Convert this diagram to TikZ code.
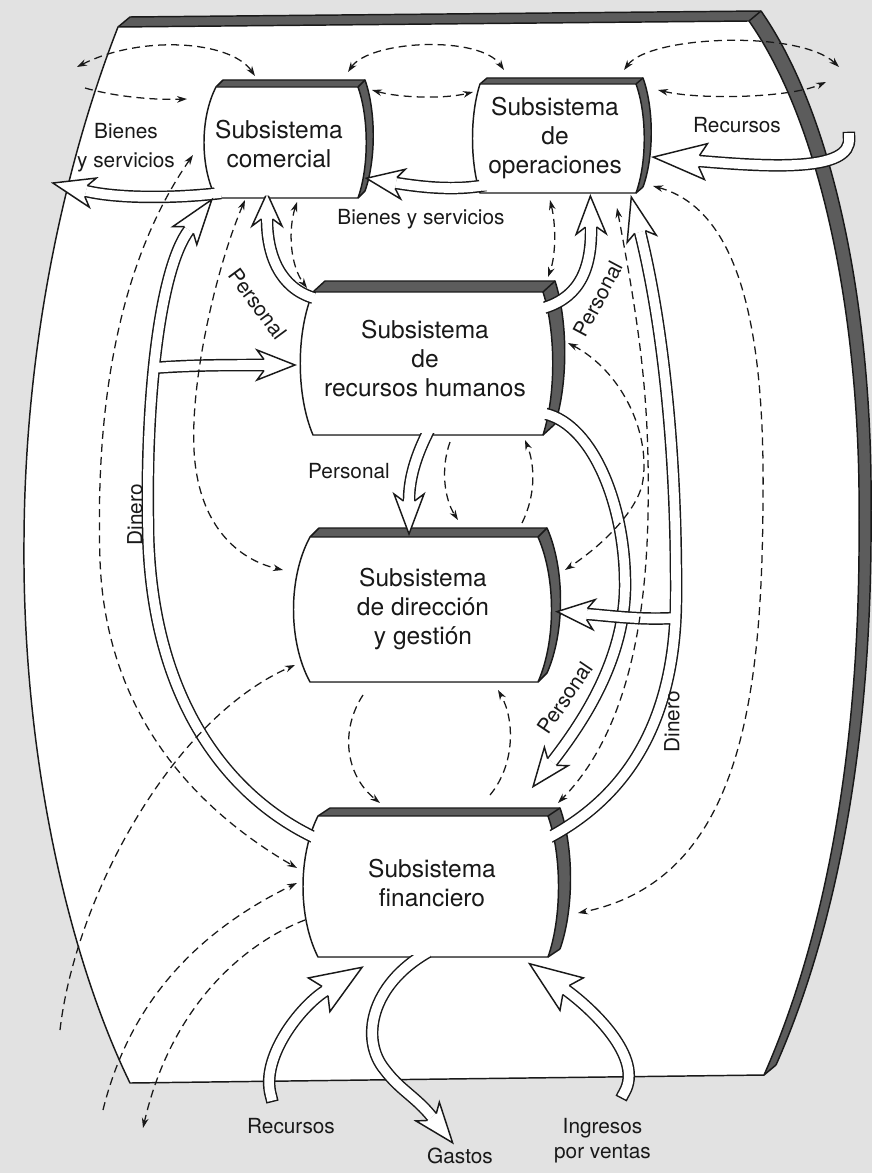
\documentclass[tikz,border=0pt]{standalone}
\usepackage{fontspec}
\setmainfont{TeX Gyre Heros}
\usetikzlibrary{arrows.meta}
\definecolor{paper}{RGB}{226,226,226}
\definecolor{bandc}{RGB}{92,92,92}
\definecolor{ink}{RGB}{25,25,25}

% outline of the curved board
\newcommand\boardpath{(118,27) -- (749,21) .. controls (825,130) and (861,330) .. (859,520) .. controls (861,780) and (815,960) .. (764,1075) -- (130,1083) .. controls (70,960) and (22,760) .. (24,540) .. controls (25,330) and (70,150) .. (118,27) -- cycle}

% front face of a subsystem block: left x, right x, top y, bottom y, left bulge, right bulge
\newcommand\facepath[6]{(#1,#3) -- (#2,#3) .. controls ({#2+#6},{#3+0.28*(#4-#3)}) and ({#2+#6},{#4-0.28*(#4-#3)}) .. (#2,#4) -- (#1,#4) .. controls ({#1-#5},{#4-0.28*(#4-#3)}) and ({#1-#5},{#3+0.28*(#4-#3)}) .. (#1,#3) -- cycle}

% block with its dark extruded rim (offset #7,#8)
\newcommand\subsysbox[8]{%
  \foreach \t in {0,...,8}{\fill[bandc,shift={({#7*\t/8},{-#8*\t/8})}] \facepath{#1}{#2}{#3}{#4}{#5}{#6};}
  \draw[bline,shift={(#7,-#8)}] (#1,#3) -- (#2,#3) .. controls ({#2+#6},{#3+0.28*(#4-#3)}) and ({#2+#6},{#4-0.28*(#4-#3)}) .. (#2,#4);
  \draw[bline] (#1,#3) -- ++(#7,-#8) (#2,#3) -- ++(#7,-#8) (#2,#4) -- ++(#7,-#8);
  \filldraw[fill=white,bline] \facepath{#1}{#2}{#3}{#4}{#5}{#6};}

% white inner fill laid again over a face so that arrow shafts merge into it
\newcommand\facerefill[6]{%
  \pgfmathsetmacro\rfx{1-4.5/(#2-#1+0.75*(#5+#6))}%
  \pgfmathsetmacro\rfy{1-4.5/(#4-#3)}%
  \pgfmathsetmacro\rcx{(#1-0.75*#5+#2+0.75*#6)/2}%
  \pgfmathsetmacro\rcy{(#3+#4)/2}%
  \fill[white,shift={(\rcx,\rcy)},xscale=\rfx,yscale=\rfy,shift={(-\rcx,-\rcy)}] \facepath{#1}{#2}{#3}{#4}{#5}{#6};}

% hollow flow arrow: shaft options, head options, path
\newcommand\bigarrow[3][]{%
  \draw[shaftO,#1] #3;
  \draw[shaftI,#1] #3;
  \path #3 pic[pos=1,sloped,allow upside down,#2]{hd};}

\begin{document}
\begin{tikzpicture}[x=0.75pt,y=-0.75pt,
  bline/.style={draw=ink,line width=1.1pt,line join=round},
  shaftO/.style={draw=ink,line width=9.4pt},
  shaftI/.style={draw=white,line width=7.2pt},
  dsh/.style={draw=ink,line width=0.95pt,dash pattern=on 6pt off 3.8pt},
  >={Stealth[length=7.5pt,width=5pt]},
  boxtext/.style={font=\fontsize{18.4}{21.75}\selectfont,align=center,inner sep=0pt,text=ink},
  lbl/.style={font=\fontsize{15.6}{19}\selectfont,align=center,inner sep=0pt,text=ink},
  hdlen/.store in=\hdlen, hdw/.store in=\hdw, hdlen=34, hdw=15,
  hd/.pic={\filldraw[fill=white,draw=ink,line width=1.1pt,line join=miter] (0,5.5) -- (-7,\hdw) -- (\hdlen,0) -- (-7,-\hdw) -- (0,-5.5);}
]
\fill[paper] (0,0) rectangle (872,1173);
\useasboundingbox (0,0) rectangle (872,1173);

% ---- board with its dark rim ----
\foreach \t in {0,...,10}{\fill[bandc,shift={({1.2*\t},{-\t})}] \boardpath;}
\draw[bline,shift={(12,-10)}] (118,27) -- (749,21) .. controls (825,130) and (861,330) .. (859,520) .. controls (861,780) and (815,960) .. (764,1075);
\draw[bline] (118,27) -- ++(12,-10) (749,21) -- ++(12,-10) (764,1075) -- ++(12,-10);
\filldraw[fill=white,bline] \boardpath;

% ---- subsystem blocks ----
\subsysbox{216}{358}{87}{198}{16}{11}{7}{7}
\subsysbox{480}{636}{84}{193}{10}{11}{7}{6}
\subsysbox{313}{543}{292}{435}{17}{13}{12}{11}
\subsysbox{310}{538}{537}{682}{22}{18}{9}{9}
\subsysbox{318}{548}{816}{957}{20}{14}{12}{8}

% ---- flows between blocks ----
% goods out of the commercial block
\bigarrow{hdlen=34}{(221,193) .. controls (170,199) and (115,198) .. (86,191)}
% goods from operations to commercial
\bigarrow{hdlen=30}{(486,185) .. controls (455,191) and (421,187) .. (396,183)}
% resources into operations
\bigarrow[line cap=rect]{hdlen=46,hdw=18}{(849,138) .. controls (852,172) and (770,167) .. (699,161)}
% staff to commercial and to operations
\bigarrow{hdlen=26}{(314,298) .. controls (280,288) and (267,255) .. (267,219)}
\bigarrow{hdlen=31}{(540,309) .. controls (575,300) and (592,275) .. (591,227)}
% money (left): finance to commercial, branch to human resources
\draw[shaftO] (320,840) .. controls (230,800) and (148,700) .. (148,520) .. controls (146,400) and (159,270) .. (189,230);
\draw[shaftO] (153,368) .. controls (190,365) and (230,365) .. (264,365);
\draw[shaftI] (320,840) .. controls (230,800) and (148,700) .. (148,520) .. controls (146,400) and (159,270) .. (189,230);
\draw[shaftI] (153,368) .. controls (190,365) and (230,365) .. (264,365);
\path (148,520) .. controls (146,400) and (159,270) .. (189,230) pic[pos=1,sloped,allow upside down,hdlen=38]{hd};
\path (153,368) .. controls (190,365) and (230,365) .. (264,365) pic[pos=1,sloped,allow upside down,hdlen=31]{hd};
% staff to management
\bigarrow{hdlen=33}{(430,428) .. controls (416,455) and (409,478) .. (409,501)}
% staff to finance
\bigarrow{hdlen=31}{(541,413) .. controls (590,420) and (624,500) .. (625,580) .. controls (627,660) and (579,727) .. (552,762)}
% money (right): finance to operations, branch to management
\draw[shaftO] (548,838) .. controls (620,800) and (675,730) .. (676,600) .. controls (677,450) and (662,320) .. (640,232);
\draw[shaftO] (675,618) .. controls (640,620) and (612,616) .. (587,614);
\draw[shaftI] (548,838) .. controls (620,800) and (675,730) .. (676,600) .. controls (677,450) and (662,320) .. (640,232);
\draw[shaftI] (675,618) .. controls (640,620) and (612,616) .. (587,614);
\path (676,600) .. controls (677,450) and (662,320) .. (640,232) pic[pos=1,sloped,allow upside down,hdlen=36]{hd};
\path (675,618) .. controls (640,620) and (612,616) .. (587,614) pic[pos=1,sloped,allow upside down,hdlen=30]{hd};
% external flows of the finance block
\bigarrow[line cap=rect]{hdlen=44,hdw=20}{(271,1096) .. controls (260,1058) and (300,1007) .. (325,991)}
\bigarrow{hdlen=33}{(428,952) .. controls (370,985) and (360,1040) .. (385,1070) .. controls (400,1090) and (416,1097) .. (432,1117)}
\bigarrow[line cap=rect]{hdlen=45,hdw=20}{(624,1093) .. controls (645,1058) and (591,1008) .. (566,990)}

\facerefill{216}{358}{87}{198}{16}{11}
\facerefill{480}{636}{84}{193}{10}{11}
\facerefill{313}{543}{292}{435}{17}{13}
\facerefill{310}{538}{537}{682}{22}{18}
\facerefill{318}{548}{816}{957}{20}{14}

% ---- information links (dashed) ----
\draw[dsh,<->] (77,67) .. controls (140,35) and (230,40) .. (255,76);
\draw[dsh,->] (85,88) .. controls (120,98) and (160,100) .. (187,99);
\draw[dsh,<->] (348,72) .. controls (370,40) and (480,35) .. (504,70);
\draw[dsh,<->] (372,90) .. controls (400,98) and (445,99) .. (473,92);
\draw[dsh,<->] (624,70) .. controls (650,35) and (800,30) .. (839,67);
\draw[dsh,<->] (658,90) .. controls (700,100) and (790,98) .. (826,82);
\draw[dsh,<->] (297,202) .. controls (288,230) and (290,265) .. (307,288);
\draw[dsh,<->] (550,200) .. controls (556,225) and (556,255) .. (548,277);
\draw[dsh,<->] (245,200) .. controls (215,270) and (185,400) .. (196,470) .. controls (205,530) and (240,560) .. (283,570);
\draw[dsh,<->] (193,155) .. controls (120,260) and (95,400) .. (100,560) .. controls (105,700) and (180,800) .. (297,868);
\draw[dsh,->] (60,1030) .. controls (75,900) and (170,720) .. (295,665);
\draw[dsh,->] (103,1110) .. controls (130,1000) and (200,930) .. (297,883);
\draw[dsh,->] (305,920) .. controls (240,945) and (170,1010) .. (143,1128);
\draw[dsh,->] (450,442) .. controls (440,470) and (445,500) .. (458,520);
\draw[dsh,->] (522,523) .. controls (536,495) and (535,465) .. (525,440);
\draw[dsh,->] (363,695) .. controls (340,730) and (345,775) .. (380,803);
\draw[dsh,->] (490,795) .. controls (515,765) and (515,720) .. (498,690);
\draw[dsh,<->] (568,343) .. controls (620,370) and (650,430) .. (643,480) .. controls (640,505) and (610,540) .. (565,570);
\draw[dsh,<->] (617,208) .. controls (640,330) and (650,400) .. (648,513) .. controls (646,640) and (620,740) .. (558,803);
\draw[dsh,<->] (653,186) .. controls (740,210) and (765,330) .. (763,500) .. controls (762,700) and (740,880) .. (578,913);

% ---- texts ----
\node[boxtext] (com) at (279,143.6) {Subsistema\\comercial};
\node[boxtext] (ope) at (555,137.7) {Subsistema\\de\\operaciones};
\node[boxtext] (rrhh) at (425,359) {Subsistema\\de\\recursos humanos};
\node[boxtext] (dir) at (423,608.7) {Subsistema\\de dirección\\y gestión};
\node[boxtext] (fin) at (432,883.5) {Subsistema\\financiero};

\node[lbl,font=\fontsize{15.6}{21.75}\selectfont] (bs1) at (126,147.2) {Bienes\\y servicios};
\node[lbl,anchor=base] (bs2) at (421,224) {Bienes y servicios};
\node[lbl,anchor=base] (rec1) at (737,133) {Recursos};
\node[lbl,rotate=-53.5] (per1) at (258,304) {Personal};
\node[lbl,rotate=62] (per2) at (598,299) {Personal};
\node[lbl,anchor=base] (per3) at (349,478) {Personal};
\node[lbl,rotate=56] (per4) at (565,698) {Personal};
\node[lbl,rotate=90] (din1) at (135,515) {Dinero};
\node[lbl,rotate=90] (din2) at (672,722) {Dinero};
\node[lbl,anchor=base] (rec2) at (291,1133) {Recursos};
\node[lbl,anchor=base] (gas) at (460,1163) {Gastos};
\node[lbl,font=\fontsize{15.6}{18.75}\selectfont] (ing) at (602.5,1140.2) {Ingresos\\por ventas};
\end{tikzpicture}
\end{document}
